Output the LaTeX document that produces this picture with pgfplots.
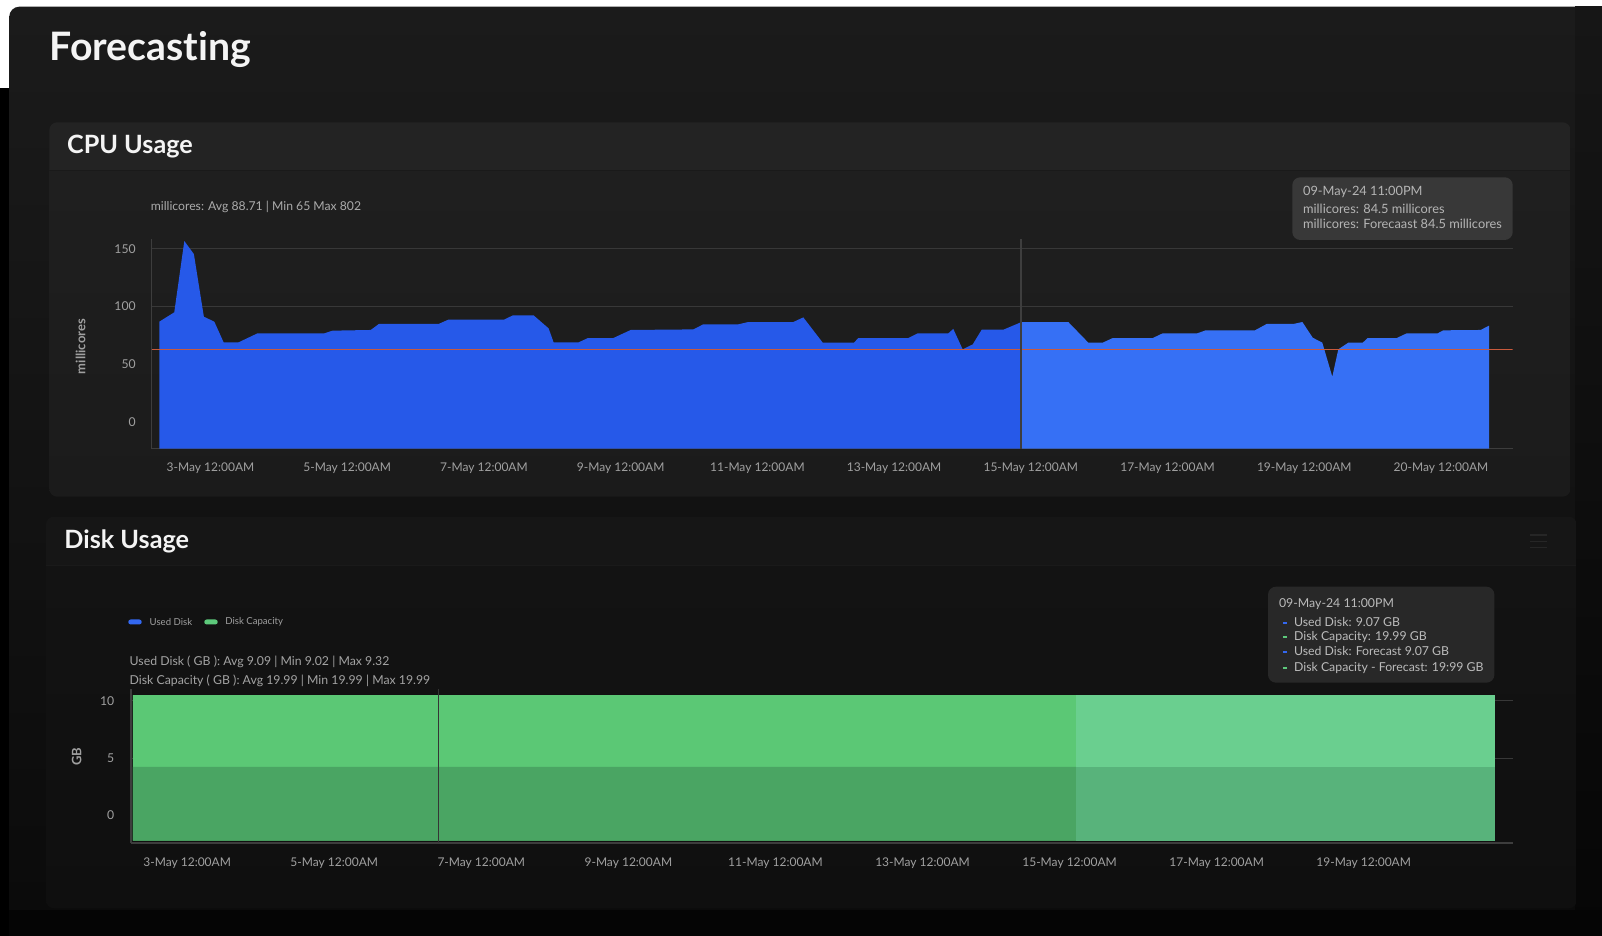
\documentclass[border=0pt]{standalone}
\usepackage{fontspec}
\setmainfont{Lato}[Ligatures={NoCommon}]
\usepackage{pgfplots}
\pgfplotsset{compat=1.18}
\definecolor{bgtop}{HTML}{1B1B1B}
\definecolor{bgmid}{HTML}{0E0E0E}
\definecolor{bgbot}{HTML}{0A0A0A}
\definecolor{rtop}{HTML}{161616}
\definecolor{rbot}{HTML}{060606}
\definecolor{bgblack}{HTML}{050505}
\definecolor{cpuhead}{HTML}{232323}
\definecolor{cpusep}{HTML}{1A1A1A}
\definecolor{cpubodytop}{HTML}{1F1F1F}
\definecolor{cpubodybot}{HTML}{1B1B1B}
\definecolor{diskhead}{HTML}{161616}
\definecolor{disksep}{HTML}{1A1A1A}
\definecolor{diskbodytop}{HTML}{131313}
\definecolor{diskbodybot}{HTML}{0F0F0F}
\definecolor{titlec}{HTML}{F4F4F4}
\definecolor{ticktext}{HTML}{A0A0A0}
\definecolor{stattext}{HTML}{ABABAB}
\definecolor{tiptext}{HTML}{B5B5B5}
\definecolor{tipbg}{HTML}{383838}
\definecolor{tipbgdisk}{HTML}{282828}
\definecolor{gridc}{HTML}{383838}
\definecolor{axisc}{HTML}{3D3D3D}
\definecolor{crossc}{HTML}{3E3E3E}
\definecolor{cpuobs}{HTML}{2659E9}
\definecolor{cpufc}{HTML}{3670F5}
\definecolor{thr}{HTML}{C95A3C}
\definecolor{capobs}{HTML}{5BC875}
\definecolor{capfc}{HTML}{6ACF8F}
\definecolor{usedobs}{HTML}{4AA563}
\definecolor{usedfc}{HTML}{58B37B}
\definecolor{legblue}{HTML}{3368F0}
\definecolor{leggreen}{HTML}{5DC97B}
\definecolor{hamb}{HTML}{262626}
\newcommand\fs[1]{\fontsize{#1pt}{#1pt}\selectfont}
\begin{document}
\begin{tikzpicture}[x=0.5pt,y=0.5pt]
\clip (0,0) rectangle (1602,936);
% ---------- page background ----------
\fill[white] (0,0) rectangle (1602,936);
\fill[black] (0,0) rectangle (10,848);
\shade[top color=bgtop, middle color=bgmid, bottom color=bgbot, rounded corners=5pt] (9.3,-30) rectangle (1640,929.3);
\shade[top color=rtop, bottom color=rbot] (1575,0) rectangle (1602,929.3);
\fill[bgblack] (9.3,0) rectangle (1602,26);
% ---------- CPU panel ----------
\begin{scope}
\clip[rounded corners=4pt] (49.3,439.3) rectangle (1570.5,813.7);
\shade[top color=cpubodytop, bottom color=cpubodybot] (49.3,439.3) rectangle (1570.5,766);
\fill[cpuhead] (49.3,766) rectangle (1570.5,813.7);
\fill[cpusep] (49.3,764.5) rectangle (1570.5,766.2);
\end{scope}
% ---------- Disk panel ----------
\begin{scope}
\clip[rounded corners=4pt] (46,27.7) rectangle (1576.7,419.3);
\shade[top color=diskbodytop, bottom color=diskbodybot] (46,27.7) rectangle (1576.7,371);
\fill[diskhead] (46,371) rectangle (1576.7,419.3);
\fill[disksep] (46,369.8) rectangle (1576.7,371.2);
\end{scope}
\draw[hamb, line width=0.6pt] (1530,401) -- (1546.7,401) (1530,394.7) -- (1546.7,394.7) (1530,388.7) -- (1546.7,388.7);
% ---------- titles ----------
\node[anchor=base west, inner sep=0pt, text=titlec, font=\bfseries\fs{19.6}] at (49.3,875) {Forecasting};
\node[anchor=base west, inner sep=0pt, text=titlec, font=\bfseries\fs{12.6}] at (66.7,782) {CPU Usage};
\node[anchor=base west, inner sep=0pt, text=titlec, font=\bfseries\fs{12.6}] at (64,387.7) {Disk Usage};
% ---------- CPU texts ----------
\node[anchor=base west, inner sep=0pt, text=stattext, font=\fs{6.1}] at (150.4,725.3) {millicores: Avg 88.71 | Min 65 Max 802};
\node[rotate=90, inner sep=0pt, text=ticktext, font=\bfseries\fs{6.5}] at (80.7,589.3) {millicores};
% ---------- Disk texts ----------
\fill[legblue, rounded corners=1.2pt] (128.3,311.5) rectangle (141.7,316.5);
\node[anchor=west, inner sep=0pt, text=ticktext, font=\fs{4.8}] at (149.3,314) {Used Disk};
\fill[leggreen, rounded corners=1.2pt] (204.3,311.5) rectangle (217.7,316.5);
\node[anchor=west, inner sep=0pt, text=ticktext, font=\fs{4.8}] at (225,314) {Disk Capacity};
\node[anchor=base west, inner sep=0pt, text=stattext!110, font=\fs{6.15}] at (129.3,270) {Used Disk ( GB ): Avg 9.09 | Min 9.02 | Max 9.32};
\node[anchor=base west, inner sep=0pt, text=stattext!110, font=\fs{6.15}] at (129.3,251.5) {Disk Capacity ( GB ): Avg 19.99 | Min 19.99 | Max 19.99};
\node[rotate=90, inner sep=0pt, text=ticktext, font=\bfseries\fs{6.5}] at (76.7,179) {GB};
\coordinate (cpuorigin) at (151.5,487.3);
\coordinate (diskorigin) at (130.7,93);
% ---------- CPU axis ----------
\begin{axis}[
  at={(cpuorigin)}, anchor=south west,
  scale only axis, width=680.6pt, height=104.7pt,
  xmin=2.137, xmax=22.049, ymin=-23.4, ymax=158.1,
  axis lines*=left, axis line style={-, draw=axisc, line width=0.8pt},
  major tick length=0pt, tick style={draw=none},
  /pgf/number format/assume math mode=true,
  ytick={100,150}, yticklabels={100,150},
  extra y ticks={0,50}, extra y tick labels={0,50},
  extra tick style={grid=none},
  ymajorgrids, grid style={draw=gridc, line width=0.5pt},
  xtick={3,5,7,9,11,13,15,17,19,21},
  xticklabels={3-May 12:00AM,5-May 12:00AM,7-May 12:00AM,9-May 12:00AM,11-May 12:00AM,13-May 12:00AM,15-May 12:00AM,17-May 12:00AM,19-May 12:00AM,20-May 12:00AM},
  xticklabel style={anchor=north, inner sep=0pt, yshift=-7pt, text=ticktext, font=\fs{6.0}},
  yticklabel style={anchor=east, inner sep=0pt, xshift=-7.7pt, text=ticktext, font=\fs{6.1}},
]
\addplot[draw=none, fill=cpuobs] coordinates {
(2.251,-23.4) (2.251,86.7) (2.470,94.8) (2.617,156.6) (2.757,145.3) (2.903,91.0)
(3.056,86.7) (3.192,68.8) (3.411,68.8) (3.688,76.6) (4.665,76.6) (4.785,78.9)
(5.344,79.5) (5.463,84.7) (6.337,84.7) (6.477,88.4) (7.292,88.4) (7.424,92.2)
(7.726,92.2) (7.946,80.9) (8.019,68.8) (8.385,68.8) (8.521,72.5) (8.892,72.5)
(9.147,79.5) (10.063,80.0) (10.209,84.4) (10.721,84.4) (10.867,86.4) (11.525,86.4)
(11.672,90.4) (11.956,68.5) (12.413,68.5) (12.476,72.5) (13.208,72.5) (13.345,76.6)
(13.793,76.6) (13.866,80.4) (14.003,62.7) (14.150,67.0) (14.281,79.7) (14.597,79.7)
(14.856,86.2) (14.856,-23.4)} -- cycle;
\addplot[draw=none, fill=cpufc] coordinates {
(14.856,-23.4) (14.856,86.2) (15.548,86.4) (15.841,68.5) (16.051,68.5) (16.198,72.5)
(16.783,72.5) (16.929,76.6) (17.435,76.6) (17.558,79.2) (18.279,79.2) (18.450,84.7)
(18.840,84.7) (18.972,86.4) (19.124,72.8) (19.264,68.5) (19.410,39.0) (19.498,62.7)
(19.644,68.5) (19.855,68.5) (19.928,72.5) (20.352,72.5) (20.499,76.6) (20.952,76.6)
(21.034,79.2) (21.581,79.5) (21.703,83.3) (21.703,-23.4)} -- cycle;
\addplot[draw=thr, line width=0.55pt] coordinates {(2.137,62.7) (22.049,62.7)};
\addplot[draw=crossc, line width=0.6pt] coordinates {(14.856,-23.4) (14.856,158.1)};
\end{axis}
% ---------- Disk axis ----------
\begin{axis}[
  at={(diskorigin)}, anchor=south west,
  scale only axis, width=691.15pt, height=76.85pt,
  xmin=2.232, xmax=21.03, ymin=-2.40, ymax=11.02,
  axis lines*=left, axis line style={-, draw=axisc, line width=0.9pt},
  major tick length=0pt, tick style={draw=none},
  /pgf/number format/assume math mode=true,
  ytick={5,10}, yticklabels={5,10},
  extra y ticks={0}, extra y tick labels={0},
  extra tick style={grid=none},
  ymajorgrids, grid style={draw=gridc, line width=0.5pt},
  xtick={3,5,7,9,11,13,15,17,19},
  xticklabels={3-May 12:00AM,5-May 12:00AM,7-May 12:00AM,9-May 12:00AM,11-May 12:00AM,13-May 12:00AM,15-May 12:00AM,17-May 12:00AM,19-May 12:00AM},
  xticklabel style={anchor=north, inner sep=0pt, yshift=-7pt, text=ticktext, font=\fs{6.0}},
  yticklabel style={anchor=east, inner sep=0pt, xshift=-8pt, text=ticktext, font=\fs{6.1}},
]
\addplot[draw=none, fill=capobs] coordinates {(2.263,-2.2) (2.263,10.52) (6.415,10.52) (15.088,10.52) (15.088,-2.2)} -- cycle;
\addplot[draw=none, fill=capfc] coordinates {(15.088,-2.2) (15.088,10.52) (20.783,10.52) (20.783,-2.2)} -- cycle;
\addplot[draw=none, fill=usedobs] coordinates {(2.263,-2.2) (2.263,4.24) (6.415,4.24) (15.088,4.24) (15.088,-2.2)} -- cycle;
\addplot[draw=none, fill=usedfc] coordinates {(15.088,-2.2) (15.088,4.24) (20.783,4.24) (20.783,-2.2)} -- cycle;
\addplot[draw=crossc!85!black, line width=0.6pt] coordinates {(6.415,-2.40) (6.415,11.02)};
\end{axis}
% ---------- CPU tooltip ----------
\fill[tipbg, rounded corners=4pt] (1292.3,696) rectangle (1512.7,758.7);
\node[anchor=base west, inner sep=0pt, text=tiptext, font=\fs{6.4}] at (1302.7,740.5) {09-May-24 11:00PM};
\node[anchor=base west, inner sep=0pt, text=tiptext, font=\fs{6.4}] at (1302.7,722) {millicores: 84.5 millicores};
\node[anchor=base west, inner sep=0pt, text=tiptext, font=\fs{6.4}] at (1302.7,707) {millicores: Forecaast 84.5 millicores};
% ---------- Disk tooltip ----------
\fill[tipbgdisk, rounded corners=4pt] (1268,253.3) rectangle (1494.4,349.3);
\node[anchor=base west, inner sep=0pt, text=tiptext!92, font=\fs{6.15}] at (1278.7,328.3) {09-May-24 11:00PM};
\fill[legblue] (1282.5,312.3) rectangle (1286.5,314.3);
\fill[leggreen] (1282.5,298) rectangle (1286.5,300);
\fill[legblue] (1282.5,283.3) rectangle (1286.5,285.3);
\fill[leggreen] (1282.5,267.3) rectangle (1286.5,269.3);
\node[anchor=base west, inner sep=0pt, text=tiptext!92, font=\fs{6.15}] at (1293.7,309.5) {Used Disk: 9.07 GB};
\node[anchor=base west, inner sep=0pt, text=tiptext!92, font=\fs{6.15}] at (1293.7,295) {Disk Capacity: 19.99 GB};
\node[anchor=base west, inner sep=0pt, text=tiptext!92, font=\fs{6.15}] at (1293.7,280.3) {Used Disk: Forecast 9.07 GB};
\node[anchor=base west, inner sep=0pt, text=tiptext!92, font=\fs{6.15}] at (1293.7,264.3) {Disk Capacity - Forecast: 19:99 GB};
\end{tikzpicture}
\end{document}
